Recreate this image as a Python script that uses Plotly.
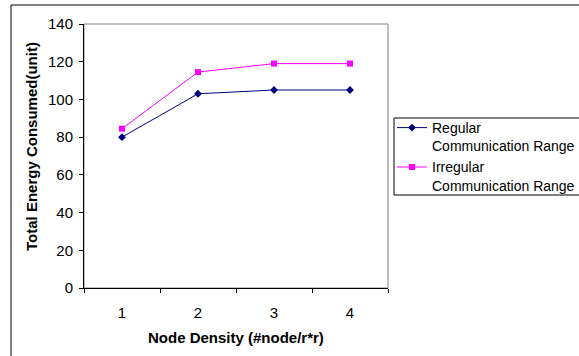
import plotly.graph_objects as go

categories = [1, 2, 3, 4]
regular = [80, 103, 105, 105]
irregular = [84.5, 114.5, 119, 119]
y_ticks = [0, 20, 40, 60, 80, 100, 120, 140]

W, H = 579, 356
L, R, T, B = 84, 388, 24, 288
pw, ph = R - L, B - T

fig = go.Figure()
fig.add_trace(go.Scatter(
    x=categories, y=regular, mode="lines+markers",
    name="Regular<br>Communication Range",
    line=dict(color="#000080", width=1),
    marker=dict(symbol="diamond", size=6, color="#000080"),
))
fig.add_trace(go.Scatter(
    x=categories, y=irregular, mode="lines+markers",
    name="Irregular<br>Communication Range",
    line=dict(color="#FF00FF", width=1),
    marker=dict(symbol="square", size=6, color="#FF00FF"),
))

font = "Liberation Sans, Arial, sans-serif"

def px2x(px):
    return (px - L) / pw

def px2y(py):
    return (B - py) / ph

fig.update_layout(
    width=W, height=H,
    margin=dict(l=L, r=W - R, t=T, b=H - B, pad=0, autoexpand=False),
    paper_bgcolor="white", plot_bgcolor="white",
    font=dict(family=font, size=15, color="black"),
    showlegend=True,
    legend=dict(
        xref="container", yref="container",
        x=392 / W, y=1 - 112 / H, xanchor="left", yanchor="top",
        borderwidth=0, bgcolor="rgba(0,0,0,0)",
        font=dict(family=font, size=14, color="black"),
        valign="top", tracegroupgap=0, itemwidth=30,
    ),
    xaxis=dict(
        range=[0.5, 4.5], tickmode="array", tickvals=categories,
        ticktext=[str(c) for c in categories], ticks="",
        showgrid=False, zeroline=False,
        showline=True, linecolor="black", linewidth=1,
        minor=dict(tickmode="array", tickvals=[0.5, 1.5, 2.5, 3.5, 4.5],
                   ticks="outside", ticklen=4, tickcolor="black", tickwidth=1,
                   showgrid=False),
        tickfont=dict(family=font, size=15),
        ticklabelstandoff=11,
    ),
    yaxis=dict(
        range=[0, 140], tickmode="array", tickvals=y_ticks,
        ticks="outside", ticklen=4, tickcolor="black",
        showgrid=False, zeroline=False,
        showline=True, linecolor="black", linewidth=1,
        tickfont=dict(family=font, size=15),
        ticklabelstandoff=3,
    ),
    annotations=[
        dict(text="<b>Node Density (#node/r*r)</b>", xref="paper", yref="paper",
             x=px2x(236), y=px2y(337), xanchor="center", yanchor="middle",
             showarrow=False, font=dict(family=font, size=15)),
        dict(text="<b>Total Energy Consumed(unit)</b>", xref="paper", yref="paper",
             x=px2x(31), y=px2y(147), xanchor="center", yanchor="middle",
             textangle=-90, showarrow=False, font=dict(family=font, size=15)),
    ],
    shapes=[
        dict(type="rect", xref="paper", yref="paper", x0=0, x1=1, y0=0, y1=1,
             line=dict(color="#808080", width=1), layer="below"),
        dict(type="rect", xref="paper", yref="paper",
             x0=px2x(11), x1=px2x(600), y0=px2y(380), y1=px2y(5),
             line=dict(color="black", width=1), layer="below"),
        dict(type="rect", xref="paper", yref="paper",
             x0=px2x(394), x1=px2x(600), y0=px2y(195), y1=px2y(118),
             line=dict(color="black", width=1), fillcolor="white", layer="above"),
    ],
)

fig.write_html("out.html", config={"displayModeBar": False},
               post_script="document.body.style.margin='0';document.body.style.padding='0';")
